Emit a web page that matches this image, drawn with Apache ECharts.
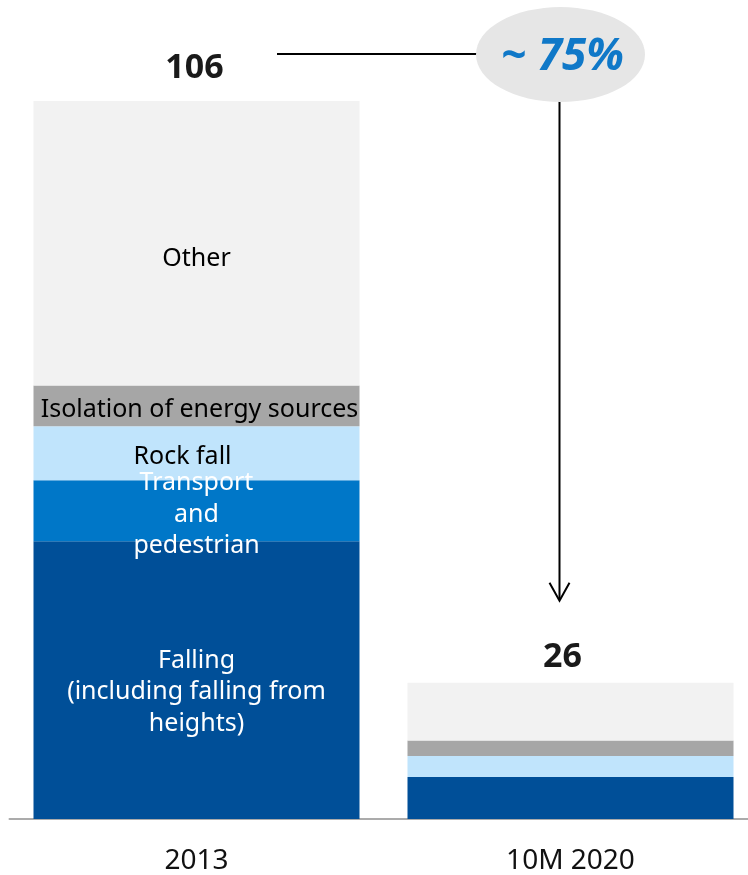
<!DOCTYPE html>
<html>
<head>
<meta charset="utf-8">
<title>Injuries by cause, 2013 vs 10M 2020</title>
<script src="https://cdn.jsdelivr.net/npm/echarts@6/dist/echarts.min.js"></script>
<style>
  html, body { margin: 0; padding: 0; background: #ffffff; }
  #chart { width: 748px; height: 875px; }
</style>
</head>
<body>
<div id="chart"></div>
<script>
// Periods on the category axis
const categories = ['2013', '10M 2020'];

// Cause breakdown per period (bottom to top of each stack)
const falling    = [41, 8];
const transport  = [9, 0];
const rockFall   = [8, 4];
const isolation  = [6, 3];
const other      = [42, 11];

// Totals shown above each stack
const totals = [106, 26];

// Headline reduction shown in the bubble
const reductionLabel = '~ 75%';

const FONT = '"Noto Sans", "DejaVu Sans", sans-serif';

// Segment names, values, fills and in-bar label styling
const segments = [
  { name: 'Falling\n(including falling from\nheights)', values: falling,   color: '#004f98', text: '#ffffff', offset: [0, 12] },
  { name: 'Transport\nand\npedestrian',                  values: transport, color: '#0077c8', text: '#ffffff', offset: [0, 4] },
  { name: 'Rock fall',                                   values: rockFall,  color: '#c0e4fc', text: '#000000', offset: [-14, 4] },
  { name: 'Isolation of energy sources',                 values: isolation, color: '#a6a6a6', text: '#000000', offset: [3, 4] },
  { name: 'Other',                                       values: other,     color: '#f2f2f2', text: '#000000', offset: [0, 16] }
];

// Each period is stacked on its own value axis (the 10M 2020 bar uses its own scale)
const stacks = [
  { stack: 'p2013', yAxisIndex: 0, labelled: true,  totalDistance: 16, totalOffset: [-2, 0] },
  { stack: 'p2020', yAxisIndex: 1, labelled: false, totalDistance: 8,  totalOffset: [-8, 0] }
];

const series = [];
stacks.forEach(function (st, ci) {
  segments.forEach(function (seg) {
    const data = categories.map(function (c, i) { return i === ci ? seg.values[i] : '-'; });
    series.push({
      type: 'bar',
      name: seg.name,
      stack: st.stack,
      yAxisIndex: st.yAxisIndex,
      barWidth: 326,
      barGap: '-100%',
      data: data,
      itemStyle: { color: seg.color },
      label: {
        show: st.labelled,
        position: 'inside',
        formatter: seg.name,
        color: seg.text,
        fontFamily: FONT,
        fontSize: 25,
        lineHeight: 31.5,
        offset: seg.offset
      },
      emphasis: { disabled: true }
    });
  });
  // Zero-height cap carrying the total label on top of the stack
  series.push({
    type: 'bar',
    name: 'Total',
    stack: st.stack,
    yAxisIndex: st.yAxisIndex,
    barWidth: 326,
    barGap: '-100%',
    data: categories.map(function (c, i) { return i === ci ? 0 : '-'; }),
    itemStyle: { color: 'transparent' },
    label: {
      show: true,
      position: 'top',
      distance: st.totalDistance,
      offset: st.totalOffset,
      formatter: function () { return String(totals[ci]); },
      color: '#1a1a1a',
      fontFamily: FONT,
      fontWeight: 'bold',
      fontSize: 34
    },
    emphasis: { disabled: true }
  });
});

const chart = echarts.init(document.getElementById('chart'), null, { renderer: 'canvas' });

chart.setOption({
  animation: false,
  backgroundColor: '#ffffff',
  grid: { left: 9.5, width: 748, top: 101, bottom: 56, containLabel: false, outerBoundsMode: 'none' },
  xAxis: {
    type: 'category',
    data: categories,
    axisLine: { show: true, lineStyle: { color: '#ababab', width: 2 } },
    axisTick: { show: false },
    axisLabel: { color: '#111111', fontFamily: FONT, fontSize: 28, margin: 28 },
    splitLine: { show: false }
  },
  yAxis: [
    { type: 'value', min: 0, max: 106, show: false, splitLine: { show: false } },
    { type: 'value', min: 0, max: 137, show: false, splitLine: { show: false } }
  ],
  series: series
});

// Reduction annotation: leader line from the 2013 total, bubble, and arrow down to the 2020 bar
const pTop2013 = chart.convertToPixel({ xAxisIndex: 0, yAxisIndex: 0 }, [categories[0], totals[0]]);
const pTop2020 = chart.convertToPixel({ xAxisIndex: 0, yAxisIndex: 1 }, [categories[1], totals[1]]);

const bubbleX = pTop2020[0] - 10;
const bubbleY = pTop2013[1] - 46.5;
const bubbleRx = 84.5;
const bubbleRy = 47.5;
const lineY = pTop2013[1] - 47;
const lineStartX = pTop2013[0] + 80.5;
const arrowX = bubbleX - 1;
const arrowTipY = pTop2020[1] - 82;

chart.setOption({
  graphic: [
    {
      type: 'line',
      shape: { x1: lineStartX, y1: lineY, x2: bubbleX - bubbleRx + 1, y2: lineY },
      style: { stroke: '#000000', lineWidth: 2 },
      silent: true
    },
    {
      type: 'line',
      shape: { x1: arrowX, y1: bubbleY + bubbleRy - 1, x2: arrowX, y2: arrowTipY - 1 },
      style: { stroke: '#000000', lineWidth: 2 },
      silent: true
    },
    {
      type: 'polyline',
      shape: { points: [[arrowX - 10, arrowTipY - 18], [arrowX, arrowTipY], [arrowX + 10, arrowTipY - 18]] },
      style: { stroke: '#000000', lineWidth: 2, fill: null },
      silent: true
    },
    {
      type: 'circle',
      x: bubbleX,
      y: bubbleY,
      scaleX: bubbleRx / bubbleRy,
      shape: { cx: 0, cy: 0, r: bubbleRy },
      style: { fill: '#e6e6e6' },
      silent: true
    },
    {
      type: 'text',
      x: bubbleX + 2,
      y: bubbleY + 3,
      style: {
        text: reductionLabel,
        fill: '#0f78c8',
        font: 'italic bold 44px ' + FONT,
        align: 'center',
        verticalAlign: 'middle'
      },
      silent: true
    }
  ]
});
</script>
</body>
</html>
